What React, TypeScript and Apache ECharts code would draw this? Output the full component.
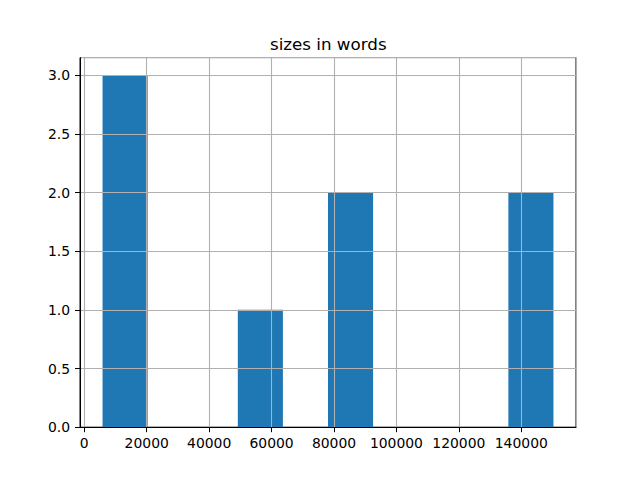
import React, { useEffect, useRef } from "react";
import * as echarts from "echarts";

const titleText = "sizes in words";
const binEdges = [5850, 20295, 34740, 49185, 63630, 78075, 92520, 106965, 121410, 135855, 150300];
const counts = [3, 0, 0, 1, 0, 2, 0, 0, 0, 2];
const xMin = -1372.5;
const xMax = 157522.5;
const yMax = 3.15;

export default function App() {
  const ref = useRef<HTMLDivElement>(null);
  useEffect(() => {
    if (!ref.current) return;
    const chart = echarts.init(ref.current, undefined, { renderer: "svg" });
    const data = counts.map((c, i) => [binEdges[i], binEdges[i + 1], c]);
    const font = "DejaVu Sans";
    chart.setOption({
      animation: false,
      backgroundColor: "#ffffff",
      title: {
        text: titleText,
        left: 270,
        top: 35,
        padding: 0,
        textStyle: { fontFamily: font, fontSize: 16.7, fontWeight: "normal", color: "#000" },
      },
      grid: {
        left: 80,
        right: 64,
        top: 57.6,
        bottom: 52.8,
        show: true,
        borderColor: "#000",
        borderWidth: 1,
        backgroundColor: "transparent",
      },
      xAxis: {
        type: "value",
        min: xMin,
        max: xMax,
        splitNumber: 8,
        z: 3,
        axisLine: { show: true, onZero: false, lineStyle: { color: "#000", width: 1 } },
        axisTick: { show: true, length: 5, lineStyle: { color: "#000", width: 1 } },
        axisLabel: {
          show: true,
          margin: 9,
          showMinLabel: false,
          showMaxLabel: false,
          fontFamily: font,
          fontSize: 13.9,
          color: "#000",
          formatter: (v: number) => (Math.abs(v % 20000) < 1e-6 ? String(v) : ""),
        },
        splitLine: { show: true, lineStyle: { color: "#b0b0b0", width: 1.1 } },
      },
      yAxis: {
        type: "value",
        min: 0,
        max: yMax,
        interval: 0.5,
        z: 3,
        axisLine: { show: true, onZero: false, lineStyle: { color: "#000", width: 1 } },
        axisTick: { show: true, length: 5, lineStyle: { color: "#000", width: 1 } },
        axisLabel: {
          show: true,
          margin: 10,
          showMaxLabel: false,
          fontFamily: font,
          fontSize: 13.9,
          color: "#000",
          formatter: (v: number) => (Math.abs((v * 2) % 1) < 1e-6 ? v.toFixed(1) : ""),
        },
        splitLine: { show: true, lineStyle: { color: "#b0b0b0", width: 1.1 } },
      },
      series: [
        {
          type: "custom",
          z: 2,
          data,
          encode: { x: [0, 1], y: 2 },
          renderItem: (params: any, api: any) => {
            const x0 = api.value(0);
            const x1 = api.value(1);
            const c = api.value(2);
            const p0 = api.coord([x0, c]);
            const p1 = api.coord([x1, 0]);
            return {
              type: "rect",
              shape: { x: p0[0], y: p0[1], width: p1[0] - p0[0], height: p1[1] - p0[1] },
              style: { fill: "#1f77b4" },
            };
          },
        },
      ],
    });
    return () => chart.dispose();
  }, []);
  return <div ref={ref} style={{ width: 640, height: 480, position: "absolute", left: 0, top: 0 }} />;
}
